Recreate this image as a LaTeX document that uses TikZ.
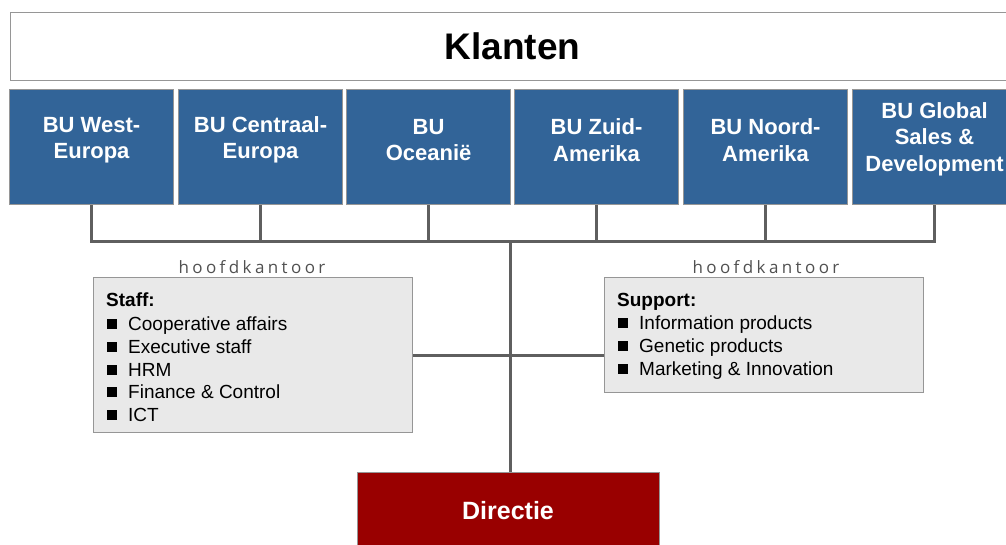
\documentclass[tikz,border=0pt]{standalone}
\usepackage{fontspec}
\setmainfont{Liberation Sans}
\newfontfamily\hkfont[LetterSpace=20]{Open Sans}
\definecolor{bublue}{RGB}{50,100,152}
\definecolor{dirred}{RGB}{153,0,0}
\definecolor{boxgrey}{RGB}{233,233,233}
\definecolor{bordergrey}{RGB}{150,150,150}
\definecolor{linegrey}{RGB}{95,95,95}
\definecolor{hkgrey}{RGB}{80,80,80}
\newcommand{\sqbul}{\rule[1pt]{10pt}{10pt}\hspace{11pt}}
\tikzset{
  bubox/.style={draw=bordergrey, line width=1.1pt, fill=bublue, minimum width=164pt, minimum height=115pt, anchor=north west, inner sep=0pt},
  butext/.style={text=white, font=\fontsize{22}{26.5}\selectfont\bfseries, align=center, inner sep=0pt},
  conn/.style={draw=linegrey, line width=3pt},
  greybox/.style={draw=bordergrey, line width=1.1pt, fill=boxgrey, anchor=north west, inner sep=0pt},
  itemtext/.style={anchor=base west, inner sep=0pt, font=\fontsize{19}{23}\selectfont},
  headtext/.style={anchor=base west, inner sep=0pt, font=\fontsize{19}{23}\selectfont\bfseries},
  hktext/.style={anchor=base, inner sep=0pt, text=hkgrey, font=\hkfont\fontsize{17}{20}\selectfont},
}
\begin{document}
\begin{tikzpicture}[x=1pt,y=-1pt]
\useasboundingbox (0,0) rectangle (1006,544);
\clip (0,0) rectangle (1006,544);

% Klanten
\node[draw=bordergrey, line width=1.1pt, fill=white, anchor=north west, minimum width=1004pt, minimum height=68pt, inner sep=0pt,
      font=\fontsize{37}{40}\selectfont\bfseries] (kl) at (10,12) {Klanten};

% BU boxes
\node[bubox] (b1) at (9,89) {};
\node[bubox] (b2) at (178,89) {};
\node[bubox] (b3) at (346,89) {};
\node[bubox] (b4) at (514,89) {};
\node[bubox] (b5) at (683,89) {};
\node[bubox] (b6) at (852,89) {};
\node[butext] (t1) at ([yshift=7pt]b1.center) {BU West-\\Europa};
\node[butext] (t2) at ([yshift=7pt]b2.center) {BU Centraal-\\Europa};
\node[butext] (t3) at ([yshift=7pt]b3.center) {BU\\Oceanië};
\node[butext] (t4) at ([yshift=7pt]b4.center) {BU Zuid-\\Amerika};
\node[butext] (t5) at ([yshift=7pt]b5.center) {BU Noord-\\Amerika};
\node[butext] (t6) at ([yshift=8pt]b6.center) {BU Global\\Sales \&\\Development};

% Staff / Support boxes
\node[greybox, minimum width=319pt, minimum height=155pt] (staff) at (93,277) {};
\node[greybox, minimum width=319pt, minimum height=115pt] (sup) at (604,277) {};

\node[hktext] (hk1) at (252,273) {hoofdkantoor};
\node[hktext] (hk2) at (766,273) {hoofdkantoor};

\node[headtext] (s0) at (106,306) {Staff:};
\node[itemtext] (s1) at (107,330) {\sqbul Cooperative affairs};
\node[itemtext] (s2) at (107,353) {\sqbul Executive staff};
\node[itemtext] (s3) at (107,376) {\sqbul HRM};
\node[itemtext] (s4) at (107,398) {\sqbul Finance \& Control};
\node[itemtext] (s5) at (107,421) {\sqbul ICT};

\node[headtext] (p0) at (617,306) {Support:};
\node[itemtext] (p1) at (618,329) {\sqbul Information products};
\node[itemtext] (p2) at (618,352) {\sqbul Genetic products};
\node[itemtext] (p3) at (618,375) {\sqbul Marketing \& Innovation};

% Directie
\node[draw=bordergrey, line width=1.1pt, fill=dirred, anchor=north west, minimum width=302pt, minimum height=90pt, inner sep=0pt] (dir) at (357,472) {};
\node[text=white, inner sep=0pt, font=\fontsize{25}{28}\selectfont\bfseries] (dirt) at (508,511) {Directie};

% connectors
\coordinate (bus) at (510,241);
\draw[conn] (b1.south) -- (b1.south |- bus) -- (b6.south |- bus) -- (b6.south);
\draw[conn] (b2.south) -- (b2.south |- bus);
\draw[conn] (b3.south) -- (b3.south |- bus);
\draw[conn] (b4.south) -- (b4.south |- bus);
\draw[conn] (b5.south) -- (b5.south |- bus);
\draw[conn] (bus) -- (bus |- dir.north);
\draw[conn] (staff.east) -- (staff.east -| sup.west);
\end{tikzpicture}
\end{document}
